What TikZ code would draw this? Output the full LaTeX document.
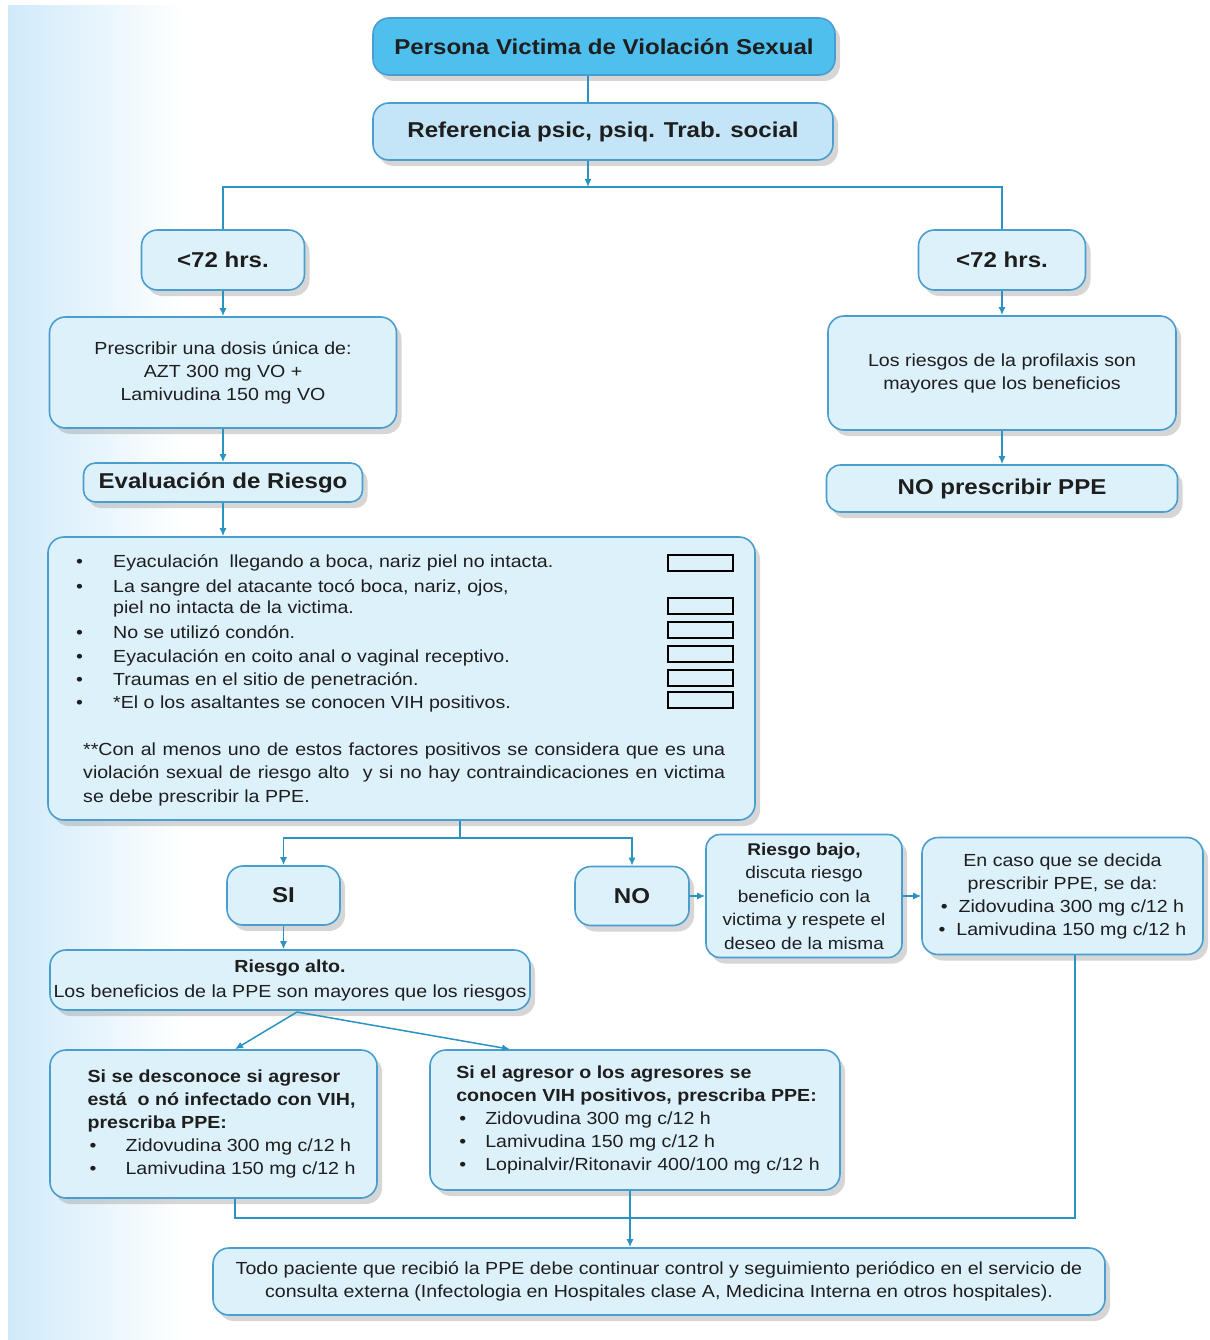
\documentclass[tikz,border=0pt]{standalone}
\usepackage{fontspec}
\setmainfont{Liberation Sans}[FakeStretch=1.12]
\usetikzlibrary{arrows.meta,shadows,calc}
\definecolor{bord}{HTML}{4A9ECF}
\definecolor{boxf}{HTML}{DDF1FB}
\definecolor{reff}{HTML}{C3E5F7}
\definecolor{topf}{HTML}{4FC0EE}
\definecolor{linec}{HTML}{2B93C2}
\definecolor{txt}{HTML}{1E1E1E}
\definecolor{bgb}{HTML}{D0EAFA}
\tikzset{
 fbox/.style={draw=bord, line width=1.6pt, rounded corners=16pt, fill=boxf, align=center, inner sep=0pt, text=txt,
   drop shadow={shadow xshift=5pt, shadow yshift=-6pt, fill=black!45, opacity=0.35}},
 conn/.style={draw=linec, line width=1.5pt},
 arr/.style={conn, -{Latex[length=8pt,width=7pt]}},
 big/.style={font=\fontsize{21.5}{25}\selectfont\bfseries},
 reg/.style={font=\fontsize{17.5}{23}\selectfont},
 tline/.style={anchor=base west, inner sep=0pt, text=txt, font=\fontsize{17.5}{23}\selectfont},
 cbox/.style={draw=black, line width=1.5pt, minimum width=65pt, minimum height=16pt, inner sep=0pt},
}
\begin{document}
\begin{tikzpicture}[x=1pt,y=-1pt]
\useasboundingbox (0,0) rectangle (1209,1340);
\fill[white] (0,0) rectangle (1209,1340);
\fill[left color=bgb, right color=white] (8,6) rectangle (185,1340);

% top
\node[fbox, fill=topf, big, minimum width=462pt, minimum height=57pt] (top) at (604,46.5) {Persona Victima de Violación Sexual};
\node[fbox, fill=reff, big, minimum width=460pt, minimum height=57pt] (ref) at (603,131.5) {Referencia psic, psiq. Trab. social};

% left branch
\node[fbox, big, minimum width=163pt, minimum height=60pt] (l72) at (223,260) {<72 hrs.};
\node[fbox, reg, minimum width=347pt, minimum height=111pt] (presc) at (223,372.5) {Prescribir una dosis única de:\\AZT 300 mg VO +\\Lamivudina 150 mg VO};
\node[fbox, big, rounded corners=12pt, minimum width=279pt, minimum height=39pt] (eval) at (223,482.5) {Evaluación de Riesgo};
\node[fbox, minimum width=707pt, minimum height=283pt] (risk) at (401.5,678.5) {};

% right branch
\node[fbox, big, minimum width=167pt, minimum height=60pt] (r72) at (1002,260) {<72 hrs.};
\node[fbox, reg, minimum width=348pt, minimum height=114pt] (rlos) at (1002,373) {Los riesgos de la profilaxis son\\mayores que los beneficios};
\node[fbox, big, rounded corners=14pt, minimum width=351pt, minimum height=47pt] (nopres) at (1002,488.5) {NO prescribir PPE};

% risk box contents
\node[tline] (bu1) at (76,567) {•};
\node[tline] (t1) at (113,567) {Eyaculación\ \ llegando a boca, nariz piel no intacta.};
\node[tline] (bu2) at (76,592) {•};
\node[tline] (t2) at (113,592) {La sangre del atacante tocó boca, nariz, ojos,};
\node[tline] (t2b) at (113,613) {piel no intacta de la victima.};
\node[tline] (bu3) at (76,638) {•};
\node[tline] (t3) at (113,638) {No se utilizó condón.};
\node[tline] (bu4) at (76,662) {•};
\node[tline] (t4) at (113,662) {Eyaculación en coito anal o vaginal receptivo.};
\node[tline] (bu5) at (76,685) {•};
\node[tline] (t5) at (113,685) {Traumas en el sitio de penetración.};
\node[tline] (bu6) at (76,708) {•};
\node[tline] (t6) at (113,708) {*El o los asaltantes se conocen VIH positivos.};
\node[tline] (p1) at (83,755) {\makebox[642pt][s]{**Con al menos uno de estos factores positivos se considera que es una}};
\node[tline] (p2) at (83,778) {\makebox[642pt][s]{violación sexual de riesgo alto\ \ y si no hay contraindicaciones en victima}};
\node[tline] (p3) at (83,802) {se debe prescribir la PPE.};
\node[cbox] (cb1) at (700.5,563) {};
\node[cbox] (cb2) at (700.5,606) {};
\node[cbox] (cb3) at (700.5,630) {};
\node[cbox] (cb4) at (700.5,654) {};
\node[cbox] (cb5) at (700.5,678) {};
\node[cbox] (cb6) at (700.5,700) {};

% decision
\node[fbox, big, minimum width=113pt, minimum height=59pt] (si) at (283.5,895.5) {SI};
\node[fbox, big, minimum width=114pt, minimum height=59pt] (no) at (632,896) {NO};
\node[fbox, font=\fontsize{17}{23.5}\selectfont, rounded corners=14pt, minimum width=196pt, minimum height=123pt] (bajo) at (804,896) {\textbf{Riesgo bajo,}\\discuta riesgo\\beneficio con la\\victima y respete el\\deseo de la misma};
\node[fbox, reg, minimum width=281pt, minimum height=117pt] (encaso) at (1062.5,896) {En caso que se decida\\prescribir PPE, se da:\\•\ \ Zidovudina 300 mg c/12 h\\•\ \ Lamivudina 150 mg c/12 h};
\node[fbox, font=\fontsize{17.5}{25}\selectfont, minimum width=480pt, minimum height=60pt] (alto) at (290,980) {\textbf{Riesgo alto.}\\Los beneficios de la PPE son mayores que los riesgos};
\node[fbox, align=left, reg, minimum width=327pt, minimum height=148pt] (lbox) at (213.5,1124) {\hspace*{16pt}\textbf{Si se desconoce si agresor}\\\hspace*{16pt}\textbf{está\ \ o nó infectado con VIH,}\\\hspace*{16pt}\textbf{prescriba PPE:}\\\hspace*{18pt}\makebox[36pt][l]{•}Zidovudina 300 mg c/12 h\\\hspace*{18pt}\makebox[36pt][l]{•}Lamivudina 150 mg c/12 h};
\node[fbox, align=left, reg, minimum width=410pt, minimum height=140pt] (rbox) at (635,1120) {\hspace*{6pt}\textbf{Si el agresor o los agresores se}\\\hspace*{6pt}\textbf{conocen VIH positivos, prescriba PPE:}\\\hspace*{9pt}\makebox[26pt][l]{•}Zidovudina 300 mg c/12 h\\\hspace*{9pt}\makebox[26pt][l]{•}Lamivudina 150 mg c/12 h\\\hspace*{9pt}\makebox[26pt][l]{•}Lopinalvir/Ritonavir 400/100 mg c/12 h};
\node[fbox, reg, minimum width=892pt, minimum height=67pt] (final) at (659,1281.5) {Todo paciente que recibió la PPE debe continuar control y seguimiento periódico en el servicio de\\consulta externa (Infectologia en Hospitales clase A, Medicina Interna en otros hospitales).};

% connectors
\coordinate (spine) at (588,0);
\coordinate (split) at (588,187);
\draw[conn] (top.south -| spine) -- (ref.north -| spine);
\draw[arr] (ref.south -| spine) -- (split);
\draw[conn] (split) -| (l72.north);
\draw[conn] (split) -| (r72.north);
\draw[arr] (l72) -- (presc);
\draw[arr] (presc) -- (eval);
\draw[arr] (eval.south) -- (eval.south |- risk.north);
\draw[arr] (r72) -- (rlos);
\draw[arr] (rlos) -- (nopres);
\coordinate (rs) at (460,838);
\draw[conn] (risk.south -| rs) -- (rs);
\draw[arr] (rs) -| (si.north);
\draw[arr] (rs) -| (no.north);
\draw[arr] (si.south) -- (si.south |- alto.north);
\draw[arr] (no) -- (bajo);
\draw[arr] (bajo) -- (encaso);
\coordinate (ad) at (297,1012);
\draw[arr] (ad) -- ($(lbox.north)+(21.5,0)$);
\draw[arr] (ad) -- ($(rbox.north)+(-125,0)$);
\coordinate (jl) at (235,1218);
\coordinate (jr) at (1075,1218);
\coordinate (jm) at (630,1218);
\draw[conn] (lbox.south -| jl) -- (jl) -- (jr) -- (encaso.south -| jr);
\draw[conn] (rbox.south -| jm) -- (jm);
\draw[arr] (jm) -- (final.north -| jm);
\end{tikzpicture}
\end{document}
